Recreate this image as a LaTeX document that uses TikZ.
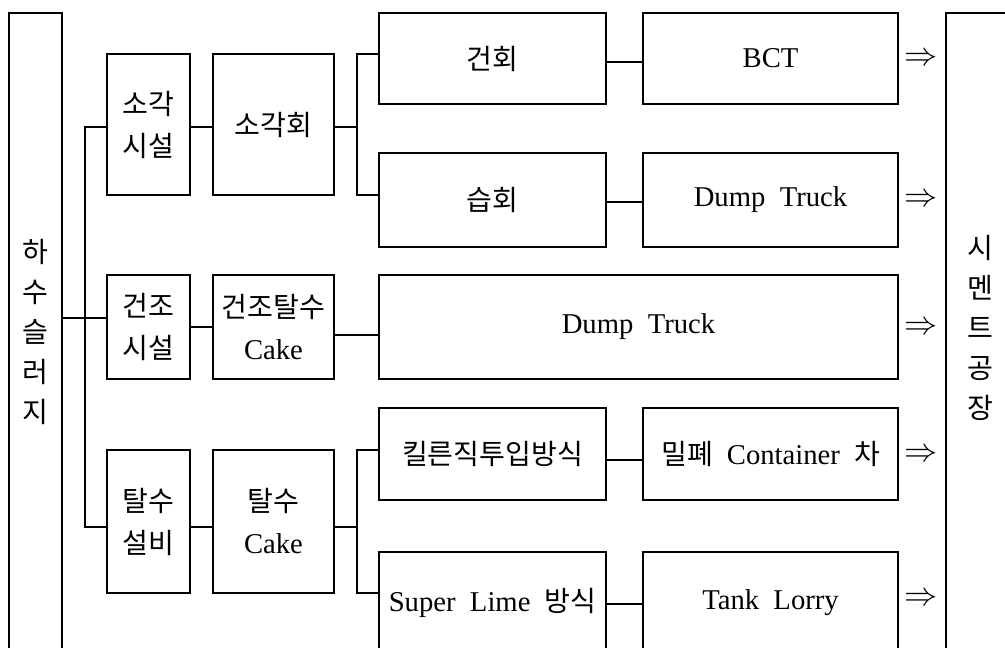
\documentclass[tikz,border=0pt]{standalone}
\usepackage{fontspec}
\setmainfont{Liberation Serif}
\newfontfamily\kr{Noto Sans CJK KR}[Scale=0.98]
\newcommand\gp{\hspace{0.5em}}
\begin{document}
\begin{tikzpicture}[x=0.75pt,y=-0.75pt,
  bx/.style 2 args={draw, line width=0.9pt, inner sep=0pt, outer sep=0pt,
    minimum width=#1*0.75pt, minimum height=#2*0.75pt, align=center,
    font=\kr\fontsize{21.5}{31.5}\selectfont},
  vt/.style={align=center, inner sep=0pt, font=\kr\fontsize{21.5}{30}\selectfont},
  ln/.style={line width=0.9pt},
  arr/.style={inner sep=0pt, font=\fontsize{25}{28}\selectfont}]
\useasboundingbox (0,0) rectangle (1005,648);
% side columns
\node[bx={53}{638}, font=\kr\fontsize{21.5}{30}\selectfont] (L) at (35.5,332) {하\\수\\슬\\러\\지};
\node[bx={69}{647}] (R) at (980.5,336.5) {};
\node[vt] (Rt) at (980,328) {시\\멘\\트\\공\\장};
% first stage
\node[bx={83}{141}] (A1) at (148.5,124.5) {소각\\시설};
\node[bx={121}{141}] (B1) at (273.5,124.5) {소각회};
\node[bx={83}{104}] (A2) at (148.5,327) {건조\\시설};
\node[bx={121}{104}] (B2) at (273.5,327) {건조탈수\\\textrm{Cake}};
\node[bx={83}{143}] (A3) at (148.5,521.5) {탈수\\설비};
\node[bx={121}{143}] (B3) at (273.5,521.5) {탈수\\\textrm{Cake}};
% second stage
\node[bx={227}{91}] (C1) at (492.5,58.5) {건회};
\node[bx={255}{91}] (D1) at (770.5,58.5) {\textrm{BCT}};
\node[bx={227}{94}] (C2) at (492.5,200) {습회};
\node[bx={255}{94}] (D2) at (770.5,200) {\textrm{Dump\gp Truck}};
\node[bx={519}{104}] (E) at (638.5,327) {\textrm{Dump\gp Truck}};
\node[bx={227}{92}] (C4) at (492.5,454) {킬른직투입방식};
\node[bx={255}{92}] (D4) at (770.5,454) {밀폐\gp\textrm{Container}\gp 차};
\node[bx={227}{102}] (C5) at (492.5,603) {\textrm{Super\gp Lime}\gp 방식};
\node[bx={255}{102}] (D5) at (770.5,603) {\textrm{Tank\gp Lorry}};
% arrows
\node[arr] (r1) at (921,59) {$\Rightarrow$};
\node[arr] (r2) at (921,200) {$\Rightarrow$};
\node[arr] (r3) at (921,328) {$\Rightarrow$};
\node[arr] (r4) at (921,455) {$\Rightarrow$};
\node[arr] (r5) at (921,599) {$\Rightarrow$};
% junction coordinates
\coordinate (J) at (85,318);
\coordinate (j1) at (85,127);
\coordinate (j3) at (85,527);
\coordinate (k1) at (357,127);
\coordinate (k1a) at (357,54);
\coordinate (k1b) at (357,195);
\coordinate (k3) at (357,527);
\coordinate (k3a) at (357,450);
\coordinate (k3b) at (357,593);
\coordinate (m2) at (357,335);
% connectors
\draw[ln] (J -| L.east) -- (J -| A2.west);
\draw[ln] (j1 -| A1.west) -- (j1) -- (j3) -- (j3 -| A3.west);
\draw[ln] (j1 -| A1.east) -- (j1 -| B1.west);
\draw[ln] (A2.east) -- (B2.west);
\draw[ln] (j3 -| A3.east) -- (j3 -| B3.west);
\draw[ln] (k1 -| B1.east) -- (k1);
\draw[ln] (k1a -| C1.west) -- (k1a) -- (k1b) -- (k1b -| C2.west);
\draw[ln] (m2 -| B2.east) -- (m2 -| E.west);
\draw[ln] (k3 -| B3.east) -- (k3);
\draw[ln] (k3a -| C4.west) -- (k3a) -- (k3b) -- (k3b -| C5.west);
\coordinate (h1) at (0,62);
\coordinate (h2) at (0,202);
\coordinate (h4) at (0,460);
\coordinate (h5) at (0,604);
\draw[ln] (h1 -| C1.east) -- (h1 -| D1.west);
\draw[ln] (h2 -| C2.east) -- (h2 -| D2.west);
\draw[ln] (h4 -| C4.east) -- (h4 -| D4.west);
\draw[ln] (h5 -| C5.east) -- (h5 -| D5.west);
\end{tikzpicture}
\end{document}
